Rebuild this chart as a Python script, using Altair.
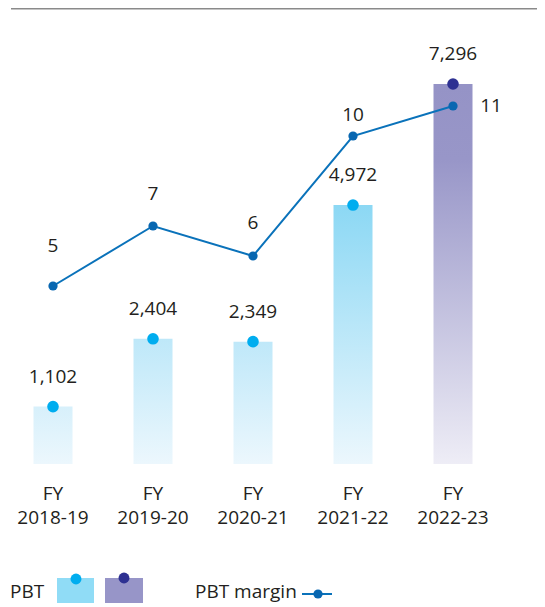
import altair as alt
import pandas as pd

years = ["2018-19", "2019-20", "2020-21", "2021-22", "2022-23"]
pbt = [1102, 2404, 2349, 4972, 7296]
margin = [5, 7, 6, 10, 11]

df = pd.DataFrame({"year": years, "pbt": pbt, "margin": margin})

FONT = "Open Sans"
TXT = "#231f20"
W, H = 529, 595

xs = alt.Scale(domain=years, range=[-5, 495], paddingInner=0.61, paddingOuter=0.305)
ybar = alt.Scale(domain=[0, 7296], range=[456, 76], nice=False, zero=True)
yline = alt.Scale(domain=[0, 11], range=[428, 98], nice=False, zero=False)

X = alt.X("year:N", scale=xs, axis=None, sort=years)
base = alt.Chart(df)


def mix(c0, c1, t):
    a = [int(c0[i:i + 2], 16) for i in (1, 3, 5)]
    b = [int(c1[i:i + 2], 16) for i in (1, 3, 5)]
    return "#" + "".join(f"{round(a[k] + (b[k] - a[k]) * t):02x}" for k in range(3))


LIGHT_BOT, LIGHT_TOP = "#ecf7fd", "#8cd8f4"
layers = []
for yr, v in zip(years, pbt):
    if yr == "2022-23":
        grad = alt.Gradient(gradient="linear", x1=0, x2=0, y1=0, y2=1,
                            stops=[alt.GradientStop(color="#9593c6", offset=0),
                                   alt.GradientStop(color="#9896c8", offset=0.2),
                                   alt.GradientStop(color="#eeedf6", offset=1)])
    else:
        top = mix(LIGHT_BOT, LIGHT_TOP, v / 4972)
        grad = alt.Gradient(gradient="linear", x1=0, x2=0, y1=0, y2=1,
                            stops=[alt.GradientStop(color=top, offset=0),
                                   alt.GradientStop(color=LIGHT_BOT, offset=1)])
    layers.append(
        base.transform_filter(alt.datum.year == yr)
        .mark_bar(color=grad)
        .encode(x=X, y=alt.Y("pbt:Q", scale=ybar, axis=None))
    )

bar_dots = base.mark_circle(size=135, opacity=1).encode(
    x=X, y=alt.Y("pbt:Q", scale=ybar, axis=None),
    color=alt.condition(alt.datum.year == "2022-23", alt.value("#2e3192"), alt.value("#00adef")),
)
bar_text = base.mark_text(font=FONT, fontSize=19, color=TXT, dy=-30, baseline="middle").encode(
    x=X, y=alt.Y("pbt:Q", scale=ybar, axis=None), text=alt.Text("pbt:Q", format=","),
)

line = base.mark_line(color="#0a72ba", strokeWidth=2).encode(
    x=X, y=alt.Y("margin:Q", scale=yline, axis=None))
line_pts = base.mark_circle(size=85, opacity=1, color="#0867b1").encode(
    x=X, y=alt.Y("margin:Q", scale=yline, axis=None))

label_offsets = {"2018-19": (0, -40), "2019-20": (0, -32), "2020-21": (0, -33),
                 "2021-22": (0, -21), "2022-23": (38, 0)}
line_texts = []
for yr, (dx, dy) in label_offsets.items():
    line_texts.append(
        base.transform_filter(alt.datum.year == yr)
        .mark_text(font=FONT, fontSize=19, color=TXT, dx=dx, dy=dy, baseline="middle")
        .encode(x=X, y=alt.Y("margin:Q", scale=yline, axis=None), text="margin:Q")
    )

fy_text = base.mark_text(font=FONT, fontSize=19, color=TXT, baseline="middle").encode(
    x=X, y=alt.value(486), text=alt.value("FY"))
yr_text = base.mark_text(font=FONT, fontSize=19, color=TXT, baseline="middle").encode(
    x=X, y=alt.value(510), text="year:N")

one = alt.Chart(pd.DataFrame({"a": [0]}))
top_rule = one.mark_rule(color="#8a8a8a", strokeWidth=1.4).encode(
    x=alt.value(3), x2=alt.value(W), y=alt.value(0.7))

LY = 584
leg = [
    one.mark_text(font=FONT, fontSize=19, color=TXT, align="left", baseline="middle").encode(
        x=alt.value(2), y=alt.value(LY), text=alt.value("PBT")),
    one.mark_rect(color="#90dcf6").encode(
        x=alt.value(49), x2=alt.value(86), y=alt.value(570), y2=alt.value(H)),
    one.mark_rect(color="#9795c8").encode(
        x=alt.value(97), x2=alt.value(135), y=alt.value(570), y2=alt.value(H)),
    one.mark_circle(size=120, opacity=1, color="#00adef").encode(
        x=alt.value(68), y=alt.value(571)),
    one.mark_circle(size=120, opacity=1, color="#2e3192").encode(
        x=alt.value(116), y=alt.value(570)),
    one.mark_text(font=FONT, fontSize=19, color=TXT, align="left", baseline="middle").encode(
        x=alt.value(187), y=alt.value(LY), text=alt.value("PBT margin")),
    one.mark_rule(color="#0a72ba", strokeWidth=2).encode(
        x=alt.value(294), x2=alt.value(324), y=alt.value(LY + 2)),
    one.mark_circle(size=85, opacity=1, color="#0867b1").encode(
        x=alt.value(310), y=alt.value(LY + 2)),
]

chart = alt.layer(
    top_rule, *layers, bar_dots, bar_text, line, line_pts, *line_texts, fy_text, yr_text, *leg
).resolve_scale(y="independent").properties(
    width=W, height=H, padding=0, autosize=alt.AutoSizeParams(type="none")
).configure_view(strokeWidth=0)

chart.save("out.html", embed_options={"renderer": "svg", "actions": False})
